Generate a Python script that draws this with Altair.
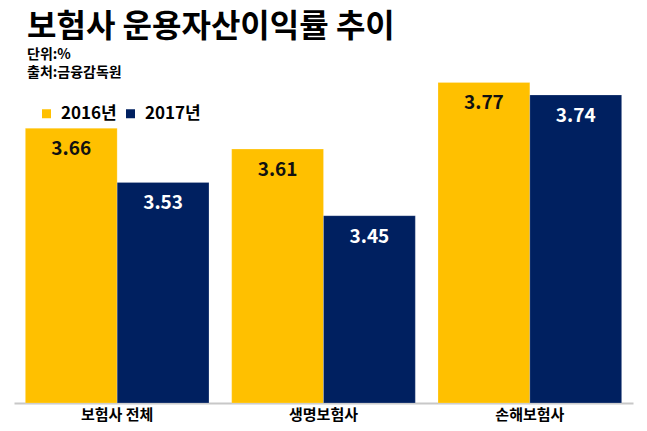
import altair as alt
import pandas as pd

TITLE = "보험사 운용자산이익률 추이"
SUBTITLE = ["단위:%", "출처:금융감독원"]
categories = ["보험사 전체", "생명보험사", "손해보험사"]
years = ["2016년", "2017년"]
values_2016 = [3.66, 3.61, 3.77]
values_2017 = [3.53, 3.45, 3.74]
colors = ["#FFC000", "#002060"]

rows = []
for c, v in zip(categories, values_2016):
    rows.append({"category": c, "year": years[0], "value": v})
for c, v in zip(categories, values_2017):
    rows.append({"category": c, "year": years[1], "value": v})
df = pd.DataFrame(rows)

FONT = "Noto Sans CJK KR"

base = alt.Chart(df).encode(
    x=alt.X(
        "category:N",
        sort=categories,
        scale=alt.Scale(paddingInner=0.11, paddingOuter=0.055),
        axis=alt.Axis(
            title=None,
            labelAngle=0,
            ticks=False,
            domainColor="#c8c8c8",
            domainWidth=2,
            labelFontSize=15,
            labelFontWeight="bold",
            labelFont=FONT,
            labelColor="#000000",
            labelPadding=4,
        ),
    ),
    xOffset=alt.XOffset("year:N", sort=years, scale=alt.Scale(paddingInner=0, paddingOuter=0)),
    y=alt.Y("value:Q", scale=alt.Scale(domain=[3.0, 3.8], zero=False, nice=False), axis=None),
)

bars = base.mark_bar(stroke="#ffffff", strokeWidth=0.5, strokeOpacity=0.4).encode(
    color=alt.Color(
        "year:N",
        sort=years,
        scale=alt.Scale(domain=years, range=colors),
        legend=alt.Legend(
            title=None,
            orient="none",
            legendX=24,
            legendY=35,
            direction="horizontal",
            symbolType="square",
            symbolSize=81,
            symbolStrokeWidth=0,
            labelFontSize=17,
            labelFontWeight="bold",
            labelFont=FONT,
            labelColor="#000000",
            labelOffset=6,
            columnPadding=5,
            padding=0,
        ),
    ),
    y2=alt.datum(3.0),
)

labels = base.mark_text(
    dy=21, baseline="middle", align="center", fontSize=19, fontWeight="bold", font=FONT
).encode(
    text=alt.Text("value:Q", format=".2f"),
    color=alt.condition(alt.datum.year == years[0], alt.value("#111111"), alt.value("#ffffff")),
)

chart = (
    alt.layer(bars, labels)
    .properties(
        width=619,
        height=333,
        autosize=alt.AutoSizeParams(type="none"),
        padding={"left": 6, "top": 62, "right": 6, "bottom": 20},
        title=alt.Title(
            TITLE,
            subtitle=SUBTITLE,
            anchor="start",
            frame="group",
            font=FONT,
            fontSize=32,
            fontWeight="bold",
            color="#000000",
            subtitleFont=FONT,
            subtitleFontSize=14,
            subtitleFontWeight="bold",
            subtitleColor="#000000",
            subtitleLineHeight=18,
            subtitlePadding=4,
            dx=13,
            offset=-11,
        ),
    )
    .configure_view(stroke=None)
)

chart.save("out.html", embed_options={"renderer": "svg", "actions": False})
